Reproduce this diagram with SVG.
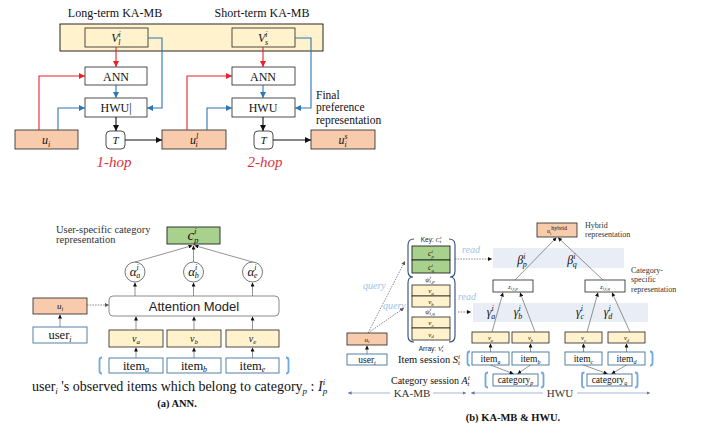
<svg xmlns="http://www.w3.org/2000/svg" width="703" height="440" viewBox="0 0 703 440">
<defs>
<style>
.s{font-family:"Liberation Serif","Times New Roman",serif;fill:#111}
.it{font-style:italic}
.sans{font-family:"Liberation Sans",Arial,sans-serif;fill:#222}
.salmon{fill:#f8cbad;stroke:#222;stroke-width:0.8}
.yel{fill:#fff2cc;stroke:#222;stroke-width:0.8}
.grn{fill:#a9d18e;stroke:#222;stroke-width:0.9}
.wht{fill:#fff;stroke:#222;stroke-width:0.8}
.ubox{fill:#fff;stroke:#41719c;stroke-width:0.9}
.band{fill:#e8edf6}
.red{fill:none;stroke:#e8212b;stroke-width:1.1}
.blue{fill:none;stroke:#2e75b6;stroke-width:1.1}
.blk{fill:none;stroke:#111;stroke-width:1.1}
.thin{fill:none;stroke:#666;stroke-width:0.7}
.dot{fill:none;stroke:#555;stroke-width:0.7;stroke-dasharray:1.5 1.2}
.brk{fill:none;stroke:#6fa8dc;stroke-width:1.8}
.brace{fill:none;stroke:#2f4a7a;stroke-width:1.1}
.lb{fill:#9dc3e6;font-family:"Liberation Serif","Times New Roman",serif;font-style:italic}
.axis{fill:none;stroke:#8096c8;stroke-width:0.7}
</style>
<marker id="aR" viewBox="0 0 6 6" refX="6" refY="3" markerWidth="6" markerHeight="6" markerUnits="userSpaceOnUse" orient="auto"><path d="M0,0L6,3L0,6z" fill="#e8212b"/></marker>
<marker id="aB" viewBox="0 0 6 6" refX="6" refY="3" markerWidth="6" markerHeight="6" markerUnits="userSpaceOnUse" orient="auto"><path d="M0,0L6,3L0,6z" fill="#2e75b6"/></marker>
<marker id="aK" viewBox="0 0 6 6" refX="6" refY="3" markerWidth="6" markerHeight="6" markerUnits="userSpaceOnUse" orient="auto"><path d="M0,0L6,3L0,6z" fill="#111"/></marker>
<marker id="aS" viewBox="0 0 6 6" refX="6" refY="3" markerWidth="4" markerHeight="4" markerUnits="userSpaceOnUse" orient="auto"><path d="M0,0L6,3L0,6z" fill="#111"/></marker>
<marker id="aG" viewBox="0 0 6 6" refX="6" refY="3" markerWidth="4" markerHeight="4" markerUnits="userSpaceOnUse" orient="auto"><path d="M0,0L6,3L0,6z" fill="#555"/></marker>
<marker id="aX" viewBox="0 0 6 6" refX="6" refY="3" markerWidth="3.5" markerHeight="3.5" markerUnits="userSpaceOnUse" orient="auto-start-reverse"><path d="M0,0L6,3L0,6z" fill="#5a70b0"/></marker>
</defs>
<rect width="703" height="440" fill="#fff"/>

<!-- ===== Top: multi-hop ===== -->
<g id="top-labels">
<text class="s" x="115" y="17" font-size="12" text-anchor="middle">Long-term KA-MB</text>
<text class="s" x="262" y="17" font-size="12" text-anchor="middle">Short-term KA-MB</text>
<text class="s" x="316" y="98.5" font-size="11.5">Final</text>
<text class="s" x="316" y="111" font-size="11.5">preference</text>
<text class="s" x="316" y="123.5" font-size="11.5">representation</text>
<text class="s it" x="114" y="167" font-size="15" text-anchor="middle" style="fill:#e0303a">1-hop</text>
<text class="s it" x="265" y="167" font-size="15" text-anchor="middle" style="fill:#e0303a">2-hop</text>
</g>
<g id="memory-band"><rect x="60" y="24" width="263" height="27" fill="#fff2cc" stroke="#111" stroke-width="0.9"/></g>
<g id="Vl"><rect class="yel" x="85" y="28" width="63" height="19"/><text class="s it" x="116" y="42" font-size="12" text-anchor="middle">V<tspan font-size="8" dy="-5">i</tspan><tspan font-size="8" dx="-2.5" dy="8">l</tspan></text></g>
<g id="Vs"><rect class="yel" x="232" y="28" width="63" height="19"/><text class="s it" x="263" y="42" font-size="12" text-anchor="middle">V<tspan font-size="8" dy="-5">i</tspan><tspan font-size="8" dx="-2.5" dy="8">s</tspan></text></g>
<g id="ANN1"><rect class="wht" x="85" y="67" width="62" height="18"/><text class="s" x="116" y="80.5" font-size="12" text-anchor="middle">ANN</text></g>
<g id="HWU1"><rect class="wht" x="85" y="98" width="62" height="19"/><text class="s" x="116" y="112" font-size="12" text-anchor="middle">HWU|</text></g>
<g id="ANN2"><rect class="wht" x="232" y="67" width="63" height="18"/><text class="s" x="263" y="80.5" font-size="12" text-anchor="middle">ANN</text></g>
<g id="HWU2"><rect class="wht" x="232" y="98" width="63" height="19"/><text class="s" x="263" y="112" font-size="12" text-anchor="middle">HWU</text></g>
<g id="ui-top"><rect class="salmon" x="15" y="130" width="63" height="19"/><text class="s it" x="46" y="144" font-size="12" text-anchor="middle">u<tspan font-size="8" dy="3">i</tspan></text></g>
<g id="T1"><rect class="wht" x="106" y="131" width="19" height="18" rx="4"/><text class="s it" x="115.5" y="144" font-size="11" text-anchor="middle">T</text></g>
<g id="uil"><rect class="salmon" x="162" y="130" width="64" height="19"/><text class="s it" x="194" y="144" font-size="12" text-anchor="middle">u<tspan font-size="8" dy="-5">l</tspan><tspan font-size="8" dx="-2.5" dy="8">i</tspan></text></g>
<g id="T2"><rect class="wht" x="254" y="131" width="19" height="18" rx="4"/><text class="s it" x="263.5" y="144" font-size="11" text-anchor="middle">T</text></g>
<g id="uis"><rect class="salmon" x="311" y="130" width="64" height="19"/><text class="s it" x="343" y="144" font-size="12" text-anchor="middle">u<tspan font-size="8" dy="-5">s</tspan><tspan font-size="8" dx="-3" dy="8">i</tspan></text></g>

<g id="top-connectors">
<path class="red" d="M116 47V67" marker-end="url(#aR)"/>
<path class="red" d="M39 130V76H85" marker-end="url(#aR)"/>
<path class="blue" d="M58 130V108H85" marker-end="url(#aB)"/>
<path class="blue" d="M116 85V98" marker-end="url(#aB)"/>
<path class="blue" d="M148 38H162V108H147" marker-end="url(#aB)"/>
<path class="blk" d="M116 117V131" marker-end="url(#aK)"/>
<path class="blk" d="M125 140H162" marker-end="url(#aK)"/>
<path class="red" d="M263 47V67" marker-end="url(#aR)"/>
<path class="red" d="M187 130V76H232" marker-end="url(#aR)"/>
<path class="blue" d="M207 130V108H232" marker-end="url(#aB)"/>
<path class="blue" d="M263 85V98" marker-end="url(#aB)"/>
<path class="blue" d="M295 38H311V108H295" marker-end="url(#aB)"/>
<path class="blk" d="M263 117V131" marker-end="url(#aK)"/>
<path class="blk" d="M273 140H311" marker-end="url(#aK)"/>
</g>

<!-- ===== (a) ANN ===== -->
<g id="ann-labels">
<text class="s" x="56" y="233" font-size="10.5" style="fill:#333">User-specific category</text>
<text class="s" x="56" y="243" font-size="10.5" style="fill:#333">representation</text>
<text class="s" x="32" y="391" font-size="14">user<tspan font-size="9" dy="3" class="it">i</tspan><tspan dy="-3"> 's observed items which belong to category</tspan><tspan font-size="9" dy="3" class="it">p</tspan><tspan dy="-3"> : </tspan><tspan class="it">I</tspan><tspan font-size="9" class="it" dy="-6">i</tspan><tspan font-size="9" class="it" dx="-2.5" dy="9">p</tspan></text>
<text class="s" x="177" y="407" font-size="10.5" font-weight="bold" text-anchor="middle">(a) ANN.</text>
</g>
<g id="cp"><rect class="grn" x="167" y="227" width="53" height="17"/><text class="s it" x="193" y="239.5" font-size="15" text-anchor="middle">c<tspan font-size="9" dy="-6">i</tspan><tspan font-size="9" dx="-2.5" dy="9">p</tspan></text></g>
<g id="alpha-a"><circle cx="135" cy="272" r="10" fill="#fff" stroke="#555" stroke-width="0.8"/><text class="s it" x="135" y="276" font-size="13" text-anchor="middle">α<tspan font-size="8" dy="-6">i</tspan><tspan font-size="8" dx="-2.5" dy="8">a</tspan></text></g>
<g id="alpha-b"><circle cx="193.5" cy="272" r="10" fill="#fff" stroke="#555" stroke-width="0.8"/><text class="s it" x="193.5" y="276" font-size="13" text-anchor="middle">α<tspan font-size="8" dy="-6">i</tspan><tspan font-size="8" dx="-2.5" dy="8">b</tspan></text></g>
<g id="alpha-e"><circle cx="252.5" cy="272" r="10" fill="#fff" stroke="#555" stroke-width="0.8"/><text class="s it" x="252.5" y="276" font-size="13" text-anchor="middle">α<tspan font-size="8" dy="-6">i</tspan><tspan font-size="8" dx="-2.5" dy="8">e</tspan></text></g>
<g id="attention"><rect x="109" y="296" width="170" height="20" rx="4" fill="#fff" stroke="#808080" stroke-width="0.9"/><text class="sans" x="194" y="310.5" font-size="13" text-anchor="middle">Attention Model</text></g>
<g id="ui-a"><rect class="salmon" x="33" y="298" width="54" height="16"/><text class="s it" x="60" y="309" font-size="9" text-anchor="middle">u<tspan font-size="6" dy="2">i</tspan></text></g>
<g id="user-a"><rect class="ubox" x="33" y="327" width="54" height="16"/><text class="s" x="60" y="339" font-size="12.5" text-anchor="middle">user<tspan font-size="8" class="it" dy="2.5">i</tspan></text></g>
<g id="va-a"><rect class="yel" x="109" y="330" width="54" height="17"/><text class="s it" x="136" y="342" font-size="10" text-anchor="middle">v<tspan font-size="7" dy="2">a</tspan></text></g>
<g id="vb-a"><rect class="yel" x="167" y="330" width="54" height="17"/><text class="s it" x="194" y="342" font-size="10" text-anchor="middle">v<tspan font-size="7" dy="2">b</tspan></text></g>
<g id="ve-a"><rect class="yel" x="226" y="330" width="53" height="17"/><text class="s it" x="252.5" y="342" font-size="10" text-anchor="middle">v<tspan font-size="7" dy="2">e</tspan></text></g>
<g id="itema-a"><rect class="ubox" x="109" y="358" width="54" height="15"/><text class="s" x="136" y="369.5" font-size="12.5" text-anchor="middle">item<tspan font-size="8" class="it" dy="2.5">a</tspan></text></g>
<g id="itemb-a"><rect class="ubox" x="167" y="358" width="54" height="15"/><text class="s" x="194" y="369.5" font-size="12.5" text-anchor="middle">item<tspan font-size="8" class="it" dy="2.5">b</tspan></text></g>
<g id="iteme-a"><rect class="ubox" x="226" y="358" width="53" height="15"/><text class="s" x="252.5" y="369.5" font-size="12.5" text-anchor="middle">item<tspan font-size="8" class="it" dy="2.5">e</tspan></text></g>
<g id="ann-brackets">
<path class="brk" d="M102 357.5Q99.5 357.5 99.5 360V371Q99.5 373.5 102 373.5"/>
<path class="brk" d="M286 357.5Q288.5 357.5 288.5 360V371Q288.5 373.5 286 373.5"/>
</g>
<g id="ann-connectors">
<path class="thin" d="M135 262L192.5 245.5" marker-end="url(#aS)"/>
<path class="thin" d="M193.5 262V245.5" marker-end="url(#aS)"/>
<path class="thin" d="M252.5 262L194.5 245.5" marker-end="url(#aS)"/>
<path class="thin" d="M135 296V282.5" marker-end="url(#aS)"/>
<path class="thin" d="M193.5 296V282.5" marker-end="url(#aS)"/>
<path class="thin" d="M252.5 296V282.5" marker-end="url(#aS)"/>
<path class="thin" d="M136 330V316.5" marker-end="url(#aS)"/>
<path class="thin" d="M194 330V316.5" marker-end="url(#aS)"/>
<path class="thin" d="M252.5 330V316.5" marker-end="url(#aS)"/>
<path class="thin" d="M136 358V347.5" marker-end="url(#aS)"/>
<path class="thin" d="M194 358V347.5" marker-end="url(#aS)"/>
<path class="thin" d="M252.5 358V347.5" marker-end="url(#aS)"/>
<path class="thin" d="M60 327V314.5" marker-end="url(#aS)"/>
<path class="dot" d="M87 305H109" marker-end="url(#aG)"/>
</g>

<!-- ===== (b) KA-MB & HWU ===== -->
<g id="bands">
<rect class="band" x="493" y="248" width="131" height="20"/>
<rect class="band" x="473" y="303" width="175" height="19"/>
</g>
<g id="b-labels">
<text class="s" x="585" y="228" font-size="8" style="fill:#333">Hybrid</text>
<text class="s" x="585" y="237" font-size="8" style="fill:#333">representation</text>
<text class="s" x="631" y="273" font-size="8" style="fill:#333">Category-</text>
<text class="s" x="631" y="282" font-size="8" style="fill:#333">specific</text>
<text class="s" x="631" y="292" font-size="8" style="fill:#333">representation</text>
<text class="s it" x="522" y="264" font-size="12" text-anchor="middle">β<tspan font-size="8" dy="-5">i</tspan><tspan font-size="8" dx="-2.5" dy="8">p</tspan></text>
<text class="s it" x="572" y="264" font-size="12" text-anchor="middle">β<tspan font-size="8" dy="-5">i</tspan><tspan font-size="8" dx="-2.5" dy="8">q</tspan></text>
<text class="s it" x="491" y="316" font-size="12" text-anchor="middle">γ<tspan font-size="8" dy="-5">i</tspan><tspan font-size="8" dx="-2.5" dy="8">a</tspan></text>
<text class="s it" x="518" y="316" font-size="12" text-anchor="middle">γ<tspan font-size="8" dy="-5">i</tspan><tspan font-size="8" dx="-2.5" dy="8">b</tspan></text>
<text class="s it" x="580" y="316" font-size="12" text-anchor="middle">γ<tspan font-size="8" dy="-5">i</tspan><tspan font-size="8" dx="-2.5" dy="8">c</tspan></text>
<text class="s it" x="608" y="316" font-size="12" text-anchor="middle">γ<tspan font-size="8" dy="-5">i</tspan><tspan font-size="8" dx="-2.5" dy="8">d</tspan></text>
<text class="lb" x="363" y="289" font-size="10">query</text>
<text class="lb" x="383" y="309" font-size="10">query</text>
<text class="lb" x="462" y="253" font-size="10">read</text>
<text class="lb" x="458" y="300" font-size="10">read</text>
<text class="s" x="398" y="363" font-size="10.5">Item session <tspan class="it">S</tspan><tspan font-size="7" class="it" dy="-4">i</tspan><tspan font-size="7" class="it" dx="-2" dy="6">t</tspan></text>
<text class="s" x="391" y="384" font-size="10">Category session <tspan class="it">A</tspan><tspan font-size="7" class="it" dy="-4">i</tspan><tspan font-size="7" class="it" dx="-2" dy="6">t</tspan></text>
<text class="s" x="412" y="397" font-size="11" text-anchor="middle" style="fill:#333">KA-MB</text>
<text class="s" x="560" y="397" font-size="11" text-anchor="middle" style="fill:#333">HWU</text>
<text class="s" x="513" y="421" font-size="10.5" font-weight="bold" text-anchor="middle">(b) KA-MB &amp; HWU.</text>
</g>
<g id="memory">
<path class="brace" d="M414 239Q408 239 408 245V271Q408 277 413 277Q408 277 408 283V336Q408 342 414 342"/>
<path class="brace" d="M449 239Q455 239 455 245V271Q455 277 450 277Q455 277 455 283V336Q455 342 449 342"/>
<text class="sans" x="431" y="242" font-size="6.5" text-anchor="middle">Key: <tspan class="s it">C</tspan><tspan class="s it" font-size="5" dy="-3">i</tspan><tspan class="s it" font-size="5" dx="-1.5" dy="4">t</tspan></text>
<rect class="grn" x="412" y="246" width="38" height="14"/>
<rect class="grn" x="412" y="260" width="38" height="13"/>
<text class="s it" x="431" y="256" font-size="8" text-anchor="middle">c<tspan font-size="5" dy="-3">i</tspan><tspan font-size="5" dx="-1.5" dy="5">p</tspan></text>
<text class="s it" x="431" y="269.5" font-size="8" text-anchor="middle">c<tspan font-size="5" dy="-3">i</tspan><tspan font-size="5" dx="-1.5" dy="5">q</tspan></text>
<text class="s it" x="430" y="282" font-size="7" text-anchor="middle">ψ<tspan font-size="5" dy="-3">i</tspan><tspan font-size="5" dx="-1.5" dy="4">i,p</tspan></text>
<rect class="yel" x="412" y="285" width="38" height="11"/>
<rect class="yel" x="412" y="296" width="38" height="11"/>
<text class="s it" x="431" y="293" font-size="7" text-anchor="middle">v<tspan font-size="5" dy="1.5">a</tspan></text>
<text class="s it" x="431" y="304" font-size="7" text-anchor="middle">v<tspan font-size="5" dy="1.5">b</tspan></text>
<text class="s it" x="430" y="313.5" font-size="7" text-anchor="middle">ψ<tspan font-size="5" dy="-3">i</tspan><tspan font-size="5" dx="-1.5" dy="4">i,q</tspan></text>
<rect class="yel" x="412" y="317" width="38" height="11"/>
<rect class="yel" x="412" y="328" width="38" height="12"/>
<text class="s it" x="431" y="325" font-size="7" text-anchor="middle">v<tspan font-size="5" dy="1.5">c</tspan></text>
<text class="s it" x="431" y="336.5" font-size="7" text-anchor="middle">v<tspan font-size="5" dy="1.5">d</tspan></text>
<text class="sans" x="431" y="351" font-size="6.5" text-anchor="middle">Array: <tspan class="s it">V</tspan><tspan class="s it" font-size="5" dy="-3">i</tspan><tspan class="s it" font-size="5" dx="-1.5" dy="4">t</tspan></text>
</g>
<g id="ui-b"><rect class="salmon" x="347" y="333" width="40" height="12"/><text class="s it" x="367" y="341.5" font-size="7" text-anchor="middle">u<tspan font-size="5" dy="1.5">i</tspan></text></g>
<g id="user-b"><rect class="ubox" x="347" y="354" width="40" height="11"/><text class="s" x="367" y="362.5" font-size="9.5" text-anchor="middle">user<tspan font-size="6" class="it" dy="2">i</tspan></text></g>
<g id="hybrid"><rect class="salmon" x="537" y="223" width="40" height="14"/><text class="s" x="557" y="233" font-size="6" text-anchor="middle"><tspan class="it">u</tspan><tspan font-size="4.5" dy="1.5">i</tspan><tspan font-size="6" dy="-5">hybrid</tspan></text></g>
<g id="zp"><rect class="wht" x="493" y="280" width="40" height="12"/><text class="s it" x="513" y="288.5" font-size="6" text-anchor="middle">z<tspan font-size="4.5" dy="1.5">i,t,p</tspan></text></g>
<g id="zq"><rect class="wht" x="585" y="280" width="40" height="12"/><text class="s it" x="605" y="288.5" font-size="6" text-anchor="middle">z<tspan font-size="4.5" dy="1.5">i,t,q</tspan></text></g>
<g id="va-b"><rect class="yel" x="472" y="332" width="37" height="11"/><text class="s it" x="490.5" y="340" font-size="6.5" text-anchor="middle">v<tspan font-size="4.5" dy="1.5">a</tspan></text></g>
<g id="vb-b"><rect class="yel" x="512" y="332" width="37" height="11"/><text class="s it" x="530.5" y="340" font-size="6.5" text-anchor="middle">v<tspan font-size="4.5" dy="1.5">b</tspan></text></g>
<g id="vc-b"><rect class="yel" x="565" y="332" width="37" height="11"/><text class="s it" x="583.5" y="340" font-size="6.5" text-anchor="middle">v<tspan font-size="4.5" dy="1.5">c</tspan></text></g>
<g id="vd-b"><rect class="yel" x="608" y="332" width="37" height="11"/><text class="s it" x="626.5" y="340" font-size="6.5" text-anchor="middle">v<tspan font-size="4.5" dy="1.5">d</tspan></text></g>
<g id="itema-b"><rect class="ubox" x="472" y="352" width="37" height="13"/><text class="s" x="490.5" y="361.5" font-size="9.5" text-anchor="middle">item<tspan font-size="6" class="it" dy="2">a</tspan></text></g>
<g id="itemb-b"><rect class="ubox" x="512" y="352" width="37" height="13"/><text class="s" x="530.5" y="361.5" font-size="9.5" text-anchor="middle">item<tspan font-size="6" class="it" dy="2">b</tspan></text></g>
<g id="itemc-b"><rect class="ubox" x="565" y="352" width="37" height="13"/><text class="s" x="583.5" y="361.5" font-size="9.5" text-anchor="middle">item<tspan font-size="6" class="it" dy="2">c</tspan></text></g>
<g id="itemd-b"><rect class="ubox" x="608" y="352" width="37" height="13"/><text class="s" x="626.5" y="361.5" font-size="9.5" text-anchor="middle">item<tspan font-size="6" class="it" dy="2">d</tspan></text></g>
<g id="catp"><rect class="ubox" x="493" y="374" width="45" height="12"/><text class="s" x="515.5" y="383" font-size="9.5" text-anchor="middle">category<tspan font-size="6" class="it" dy="2">p</tspan></text></g>
<g id="catq"><rect class="ubox" x="587" y="374" width="45" height="12"/><text class="s" x="609.5" y="383" font-size="9.5" text-anchor="middle">category<tspan font-size="6" class="it" dy="2">q</tspan></text></g>
<g id="b-brackets">
<path class="brk" d="M470 351.5Q467.5 351.5 467.5 354V363Q467.5 365.5 470 365.5"/>
<path class="brk" d="M650 351.5Q652.5 351.5 652.5 354V363Q652.5 365.5 650 365.5"/>
<path class="brk" d="M488 372.5Q485.5 372.5 485.5 375V385Q485.5 387.5 488 387.5"/>
<path class="brk" d="M541 372.5Q543.5 372.5 543.5 375V385Q543.5 387.5 541 387.5"/>
<path class="brk" d="M584.5 372.5Q582 372.5 582 375V385Q582 387.5 584.5 387.5"/>
<path class="brk" d="M635 372.5Q637.5 372.5 637.5 375V385Q637.5 387.5 635 387.5"/>
</g>
<g id="b-connectors">
<path class="thin" d="M367 354V345.5" marker-end="url(#aS)"/>
<path class="dot" d="M368 333L405 261" marker-end="url(#aG)"/>
<path class="dot" d="M368 333L404 308" marker-end="url(#aG)"/>
<path class="dot" d="M455 259H492" marker-end="url(#aS)"/>
<path class="dot" d="M458 312H471" marker-end="url(#aS)"/>
<path class="thin" d="M515 280L556.5 237.5" marker-end="url(#aS)"/>
<path class="thin" d="M603 280L558 237.5" marker-end="url(#aS)"/>
<path class="thin" d="M492 332L503 292.5" marker-end="url(#aS)"/>
<path class="thin" d="M535 332L520 292.5" marker-end="url(#aS)"/>
<path class="thin" d="M587 332L598 292.5" marker-end="url(#aS)"/>
<path class="thin" d="M630 332L612 292.5" marker-end="url(#aS)"/>
<path class="thin" d="M490.5 352V343.5" marker-end="url(#aS)"/>
<path class="thin" d="M530.5 352V343.5" marker-end="url(#aS)"/>
<path class="thin" d="M583.5 352V343.5" marker-end="url(#aS)"/>
<path class="thin" d="M626.5 352V343.5" marker-end="url(#aS)"/>
<path class="thin" d="M490.5 365L513.5 373.8" marker-end="url(#aS)"/>
<path class="thin" d="M530.5 365L517.5 373.8" marker-end="url(#aS)"/>
<path class="thin" d="M583.5 365L607.5 373.8" marker-end="url(#aS)"/>
<path class="thin" d="M626.5 365L611.5 373.8" marker-end="url(#aS)"/>
<path class="axis" d="M348 393H390" marker-start="url(#aX)"/>
<path class="axis" d="M433 393H466" marker-end="url(#aX)"/>
<path class="axis" d="M471 393H543" marker-start="url(#aX)"/>
<path class="axis" d="M577 393H650" marker-end="url(#aX)"/>
</g>
</svg>
